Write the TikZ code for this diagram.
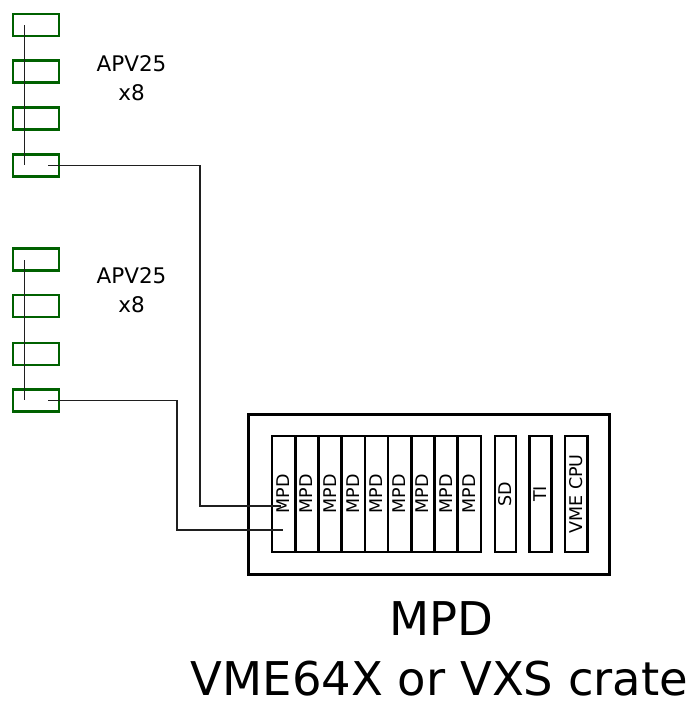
\documentclass[tikz,border=0pt]{standalone}
\usepackage{fontspec}
\setmainfont{DejaVu Sans}
\definecolor{apvgreen}{rgb}{0.0,0.38,0.0}
\definecolor{wire}{rgb}{0.12,0.12,0.12}
\begin{document}
\begin{tikzpicture}[x=1pt,y=-1pt,
  apv/.style={draw=apvgreen,line width=2.4pt,minimum width=46pt,minimum height=22pt,inner sep=0pt},
  slot/.style={draw=black,line width=2.6pt,minimum width=23.2pt,minimum height=116pt,inner sep=0pt},
  crate/.style={draw=black,line width=3.2pt,minimum width=361pt,minimum height=160pt,inner sep=0pt},
  wireline/.style={draw=wire,line width=1.3pt},
  apvlabel/.style={font=\fontsize{21.5}{25}\selectfont,anchor=base,inner sep=0pt},
  slotlabel/.style={font=\fontsize{17.5}{20}\selectfont,anchor=base,rotate=90,inner sep=0pt},
  biglabel/.style={font=\fontsize{46.5}{56}\selectfont,anchor=base,inner sep=0pt}]
\useasboundingbox (0,0) rectangle (697,704);
% APV group 1
\node[apv] (a1) at (36,24.8) {};
\node[apv] (a2) at (36,71.5) {};
\node[apv] (a3) at (36,118.5) {};
\node[apv] (a4) at (36,165.5) {};
% APV group 2
\node[apv] (b1) at (36,259.5) {};
\node[apv] (b2) at (36,306) {};
\node[apv] (b3) at (36,354) {};
\node[apv] (b4) at (36,400.5) {};
% labels
\node[apvlabel] (la1) at (131.5,71.7) {APV25};
\node[apvlabel] (la2) at (131.5,100.7) {x8};
\node[apvlabel] (lb1) at (131.5,283.3) {APV25};
\node[apvlabel] (lb2) at (131.5,312.7) {x8};
% crate
\node[crate] (crate) at (429,494.5) {};
\foreach \i in {0,...,8} {
  \node[slot] (m\i) at ({272+23.22*(\i+0.5)},494) {};
  \node[slotlabel] (lm\i) at ({272+23.22*(\i+0.5)+6},494) {MPD};
}
\node[slot,minimum width=21pt] (sd) at (505.3,494) {};
\node[slotlabel] (lsd) at (511.3,494) {SD};
\node[slot,minimum width=22pt] (ti) at (540.7,494) {};
\node[slotlabel] (lti) at (546.7,494) {TI};
\node[slot,minimum width=22.5pt] (cpu) at (576.2,494) {};
\node[slotlabel] (lcpu) at (582.2,494) {VME CPU};
% bottom text
\node[biglabel] (t1) at (441,635.7) {MPD};
\node[biglabel] (t2) at (439.5,695) {VME64X or VXS crate};
% bus lines
\coordinate (a1c) at (24.5,25);
\coordinate (a4c) at (24.5,165);
\coordinate (b1c) at (24.5,260);
\coordinate (b4c) at (24.5,400);
\draw[wireline] (a1c) -- (a4c);
\draw[wireline] (b1c) -- (b4c);
% connectors
\coordinate (a4o) at (48,165.6);
\coordinate (m0a) at (281,506);
\coordinate (b4o) at (48,400.7);
\coordinate (m0b) at (283,530);
\draw[wireline] (a4o) -- (200,165.6) -- (200,506) -- (m0a);
\draw[wireline] (b4o) -- (177,400.7) -- (177,530) -- (m0b);
\end{tikzpicture}
\end{document}
